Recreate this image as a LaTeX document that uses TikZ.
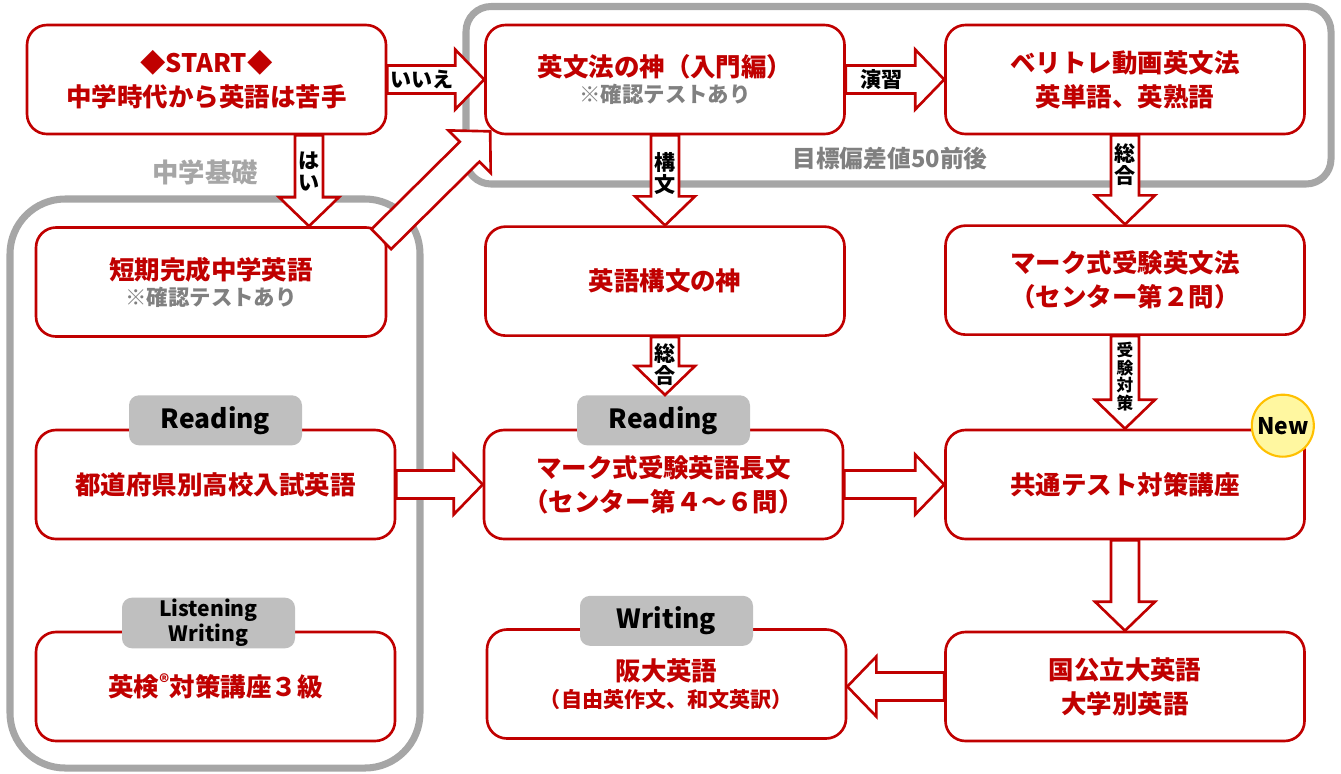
\documentclass[tikz,border=0pt]{standalone}
\usepackage{fontspec}
\setmainfont{Noto Sans CJK JP}
\usetikzlibrary{positioning,calc}

\definecolor{jred}{HTML}{C00000}
\definecolor{frame}{HTML}{A6A6A6}
\definecolor{notegray}{HTML}{808080}
\definecolor{tagfill}{HTML}{BFBFBF}
\definecolor{newfill}{HTML}{FFF7A0}
\definecolor{newline}{HTML}{FFC000}

\newcommand\subnote[1]{{\color{notegray}\fontsize{12.2}{14}\selectfont #1}}
\newcommand\smallline[1]{{\fontsize{12}{14}\selectfont #1}}

\begin{document}
\begin{tikzpicture}[
    box/.style={rectangle, rounded corners=0.4cm, draw=jred, line width=1.5pt, fill=white, minimum width=7.18cm, minimum height=2.18cm, align=center, text=jred, font=\bfseries\fontsize{14.5}{19.3}\selectfont},
    tag/.style={rectangle, rounded corners=0.2cm, fill=tagfill, minimum width=3.46cm, minimum height=1cm, align=center, font=\bfseries\fontsize{15}{17}\selectfont},
    zone/.style={draw=frame, line width=4pt},
    zonetitle/.style={text=frame, font=\bfseries\fontsize{15}{17}\selectfont},
    lbl/.style={inner sep=0pt, align=center, font=\bfseries\fontsize{12}{12.5}\selectfont},
    fat/.style={draw=jred, fill=white, line width=1.5pt, line join=miter, to path={
        -- ($(\tikztostart)!0.28cm!-90:(\tikztotarget)$)
        -- ($($(\tikztotarget)!0.58cm!(\tikztostart)$)!0.28cm!-90:(\tikztotarget)$)
        -- ($($(\tikztotarget)!0.58cm!(\tikztostart)$)!0.6cm!-90:(\tikztotarget)$)
        -- (\tikztotarget)
        -- ($($(\tikztotarget)!0.58cm!(\tikztostart)$)!0.6cm!90:(\tikztotarget)$)
        -- ($($(\tikztotarget)!0.58cm!(\tikztostart)$)!0.28cm!90:(\tikztotarget)$)
        -- ($(\tikztostart)!0.28cm!90:(\tikztotarget)$)
        -- cycle}},
]
\useasboundingbox (0,0) rectangle (26.82,-15.46);

% Grey frames
\draw[zone, rounded corners=0.5cm] (9.32,-0.13) rectangle (26.62,-3.68);
\draw[zone, rounded corners=1.1cm] (0.2,-3.98) rectangle (8.4,-15.36);
\node[zonetitle] (kiso) at (4.1,-3.44) {中学基礎};
\node[zonetitle, text=notegray, font=\bfseries\fontsize{13.5}{15}\selectfont] (goal) at (17.8,-3.16) {目標偏差値50前後};

% Row 1
\node[box] (st) at (4.13,-1.59) {◆START◆\\中学時代から英語は苦手};
\node[box] (kami) at (13.3,-1.59) {英文法の神（入門編）\\[-4.5pt]\subnote{※確認テストあり}};
\node[box] (veri) at (22.5,-1.59) {ベリトレ動画英文法\\英単語、英熟語};

% Row 2
\node[box, minimum width=7cm] (tanki) at (4.22,-5.64) {短期完成中学英語\\[-4.5pt]\subnote{※確認テストあり}};
\node[box, below=1.8cm of kami] (kobun) {英語構文の神};
\node[box, below=1.78cm of veri] (mbun) {マーク式受験英文法\\（センター第２問）};

% Row 3
\node[box] (pref) at (4.31,-9.69) {都道府県別高校入試英語};
\node[box] (mcho) at (13.27,-9.69) {マーク式受験英語長文\\（センター第４～６問）};
\node[box] (kyo) at (22.5,-9.69) {共通テスト対策講座};

% Row 4
\node[box] (eiken) at (4.31,-13.73) {英検{\raisebox{0.5ex}{\fontsize{11}{11}\selectfont ®}}対策講座３級};
\node[box] (han) at (13.33,-13.68) {阪大英語\\[-3.8pt]\smallline{（自由英作文、和文英訳）}};
\node[box] (koku) at (22.5,-13.73) {国公立大英語\\大学別英語};

% Tags
\node[tag, above=-0.34cm of pref.north] (rd1) {Reading};
\node[tag, above=-0.34cm of mcho.north] (rd2) {Reading};
\node[tag, above=-0.36cm of eiken.north, xshift=-0.14cm, inner sep=1pt, font=\bfseries\fontsize{12}{14}\selectfont] (lw) {Listening\\Writing};
\node[tag, above=-0.36cm of han.north] (wr) {Writing};
\node[circle, draw=newline, fill=newfill, line width=1.2pt, minimum size=1.24cm, inner sep=0pt, font=\bfseries\fontsize{13}{15}\selectfont] (new) at ($(kyo.north east)+(-0.46,0.06)$) {New};

% Block arrows
\coordinate (hai) at ($(st.south)+(2.05,0)$);
\coordinate (hai2) at (hai |- tanki.north);
\coordinate (diag1) at ($(tanki.north east)+(-0.12,-0.26)$);
\coordinate (diag2) at ($(kami.south west)+(0.12,0.08)$);
\coordinate (sogo2) at (kobun.south |- rd2.north);
\coordinate (toha) at (koku.west -| han.east);

\draw[fat] (st.east) to (kami.west);
\draw[fat] (kami.east) to (veri.west);
\draw[fat] (hai) to (hai2);
\draw[fat] (diag1) to (diag2);
\draw[fat] (kami.south) to (kobun.north);
\draw[fat] (veri.south) to (mbun.north);
\draw[fat] (kobun.south) to (sogo2);
\draw[fat] (mbun.south) to (kyo.north);
\draw[fat] (pref.east) to (mcho.west);
\draw[fat] (mcho.east) to (kyo.west);
\draw[fat] (kyo.south) to (koku.north);
\draw[fat] (koku.west) to (toha);

% Arrow labels
\node[lbl] at ($(st.east)!0.36!(kami.west)$) {いいえ};
\node[lbl] at ($(kami.east)!0.36!(veri.west)$) {演習};
\node[lbl] at ($(hai)!0.4!(hai2)$) {は\\い};
\node[lbl] at ($(kami.south)!0.42!(kobun.north)$) {構\\文};
\node[lbl] at ($(veri.south)!0.33!(mbun.north)$) {総\\合};
\node[lbl] at ($(kobun.south)!0.47!(sogo2)$) {総\\合};
\node[lbl, font=\bfseries\fontsize{9.5}{10}\selectfont] at ($(mbun.south)!0.44!(kyo.north)$) {受\\験\\対\\策};

\end{tikzpicture}
\end{document}
